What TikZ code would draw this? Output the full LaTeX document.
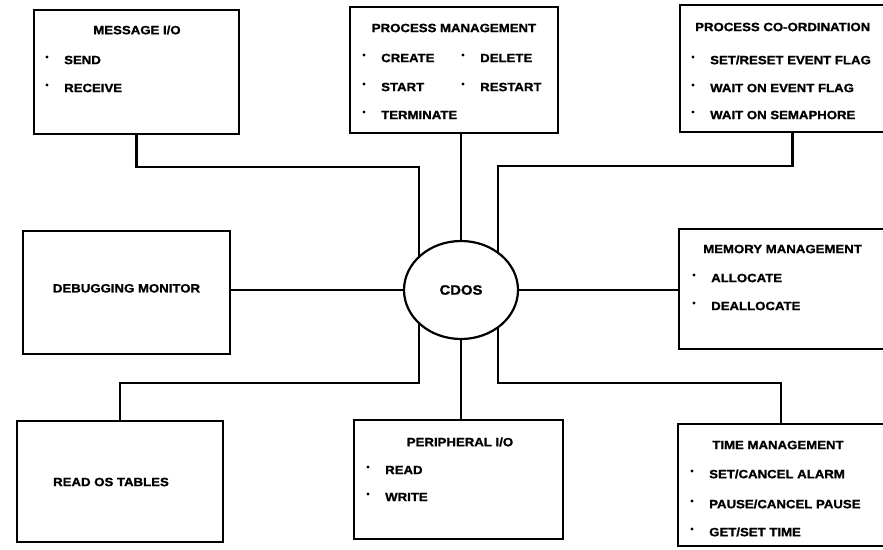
\documentclass[tikz,border=0pt]{standalone}
\usepackage{fontspec}
\setmainfont{Liberation Sans}[FakeStretch=1.1,BoldFeatures={FakeBold=1.2}]
\usetikzlibrary{fit,backgrounds,shapes.geometric}

% a bullet dot followed by one line of text; #1 name, #2/#3 text start, #4 text
\newcommand\bulletitem[4]{%
  \node[bdot] (#1d) at (#2-17,#3-3) {};
  \node[itemtext] (#1) at (#2,#3) {#4};}

\begin{document}
\begin{tikzpicture}[x=1pt,y=-1pt,
  box/.style={draw,line width=2.2pt,fill=white,inner sep=0pt,
              font=\fontsize{12}{14}\selectfont\bfseries},
  hub/.style={draw,ellipse,line width=2.2pt,fill=white,inner sep=0pt,
              minimum width=114pt,minimum height=98pt,
              font=\fontsize{13.5}{16}\selectfont\bfseries},
  head/.style={inner sep=0pt,font=\fontsize{12}{14}\selectfont\bfseries},
  itemtext/.style={inner sep=0pt,anchor=west,font=\fontsize{12}{14}\selectfont\bfseries},
  bdot/.style={circle,fill,inner sep=0pt,minimum size=3.2pt},
  link/.style={line width=2.2pt}]

\useasboundingbox (0,0) rectangle (883,549);
\clip (0,0) rectangle (883,549);

% central executive
\node[hub] (hub) at (461,290) {CDOS};

% service boxes
\node[box, fit={(34,10) (239,134)}]   (msg) {};
\node[box, fit={(350,7) (558,133)}]   (pm)  {};
\node[box, fit={(680,5) (905,132)}]   (pc)  {};
\node[box, fit={(23,231) (230,354)}]  (dbg) {DEBUGGING MONITOR};
\node[box, fit={(679,229) (905,349)}] (mem) {};
\node[box, fit={(17,421) (223,542)}]  (ros) {};
\node[box, fit={(354,420) (563,539)}] (per) {};
\node[box, fit={(678,424) (884,546)}] (tim) {};

% message I/O
\node[head] (msgT) at (137,30) {MESSAGE I/O};
\bulletitem{msgA}{64}{60}{SEND}
\bulletitem{msgB}{64}{88}{RECEIVE}

% process management
\node[head] (pmT) at (454,28) {PROCESS MANAGEMENT};
\bulletitem{pmA}{381}{58}{CREATE}
\bulletitem{pmB}{480}{58}{DELETE}
\bulletitem{pmC}{381}{87}{START}
\bulletitem{pmD}{480}{87}{RESTART}
\bulletitem{pmE}{381}{115}{TERMINATE}

% process co-ordination
\node[head,anchor=west] (pcT) at (695,27) {PROCESS CO-ORDINATION};
\bulletitem{pcA}{710}{60}{SET/RESET EVENT FLAG}
\bulletitem{pcB}{710}{88}{WAIT ON EVENT FLAG}
\bulletitem{pcC}{710}{115}{WAIT ON SEMAPHORE}

% memory management
\node[head,anchor=west] (memT) at (703,249) {MEMORY MANAGEMENT};
\bulletitem{memA}{711}{278}{ALLOCATE}
\bulletitem{memB}{711}{306}{DEALLOCATE}

% read OS tables
\node[head] (rosT) at (111,482) {READ OS TABLES};

% peripheral I/O
\node[head] (perT) at (460,442) {PERIPHERAL I/O};
\bulletitem{perA}{385}{470}{READ}
\bulletitem{perB}{385}{497}{WRITE}

% time management
\node[head] (timT) at (778,445) {TIME MANAGEMENT};
\bulletitem{timA}{709}{474}{SET/CANCEL ALARM}
\bulletitem{timB}{709}{504}{PAUSE/CANCEL PAUSE}
\bulletitem{timC}{709}{532}{GET/SET TIME}

% connectors, run behind the boxes and the hub
\coordinate (nw) at (419,167);
\coordinate (ne) at (498,166);
\coordinate (sw) at (419,383);
\coordinate (se) at (498,383);
\begin{scope}[on background layer]
  \draw[link] (msg.south) |- (nw) -- (nw |- hub.center);
  \draw[link] (pm.south -| hub.center) -- (hub.center);
  \draw[link] (pc.south) |- (ne) -- (ne |- hub.center);
  \draw[link] (dbg.east |- hub.center) -- (hub.center);
  \draw[link] (hub.center) -- (mem.west |- hub.center);
  \draw[link] (ros.north) |- (sw) -- (sw |- hub.center);
  \draw[link] (hub.center) -- (hub.center |- per.north);
  \draw[link] (tim.north) |- (se) -- (se |- hub.center);
\end{scope}
\end{tikzpicture}
\end{document}
